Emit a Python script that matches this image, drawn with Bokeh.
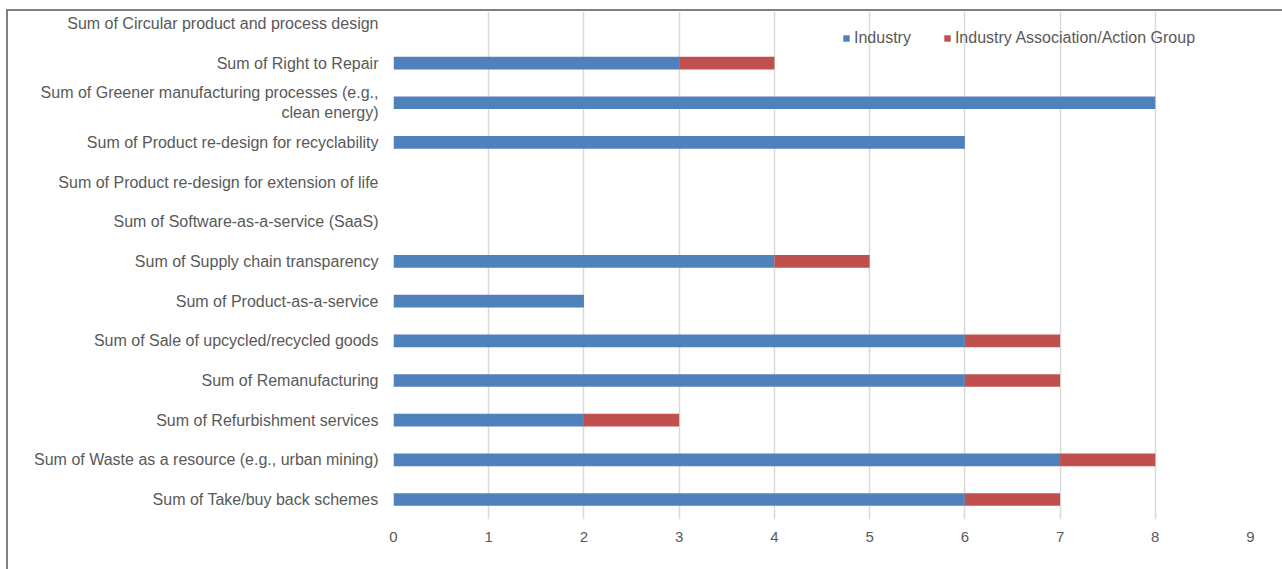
from bokeh.plotting import figure
from bokeh.models import ColumnDataSource, FixedTicker, InlineStyleSheet
from bokeh.embed import file_html
from bokeh.resources import INLINE

categories = [
    "Sum of Take/buy back schemes",
    "Sum of Waste as a resource (e.g., urban mining)",
    "Sum of Refurbishment services",
    "Sum of Remanufacturing",
    "Sum of Sale of upcycled/recycled goods",
    "Sum of Product-as-a-service",
    "Sum of Supply chain transparency",
    "Sum of Software-as-a-service (SaaS)",
    "Sum of Product re-design for extension of life",
    "Sum of Product re-design for recyclability",
    "Sum of Greener manufacturing processes (e.g.,\nclean energy)",
    "Sum of Right to Repair",
    "Sum of Circular product and process design",
]
industry = [6, 7, 2, 6, 6, 2, 4, 0, 0, 6, 8, 3, 0]
association = [1, 1, 1, 1, 1, 0, 1, 0, 0, 0, 0, 1, 0]
series_names = ["Industry", "Industry Association/Action Group"]
colors = ["#4F81BD", "#C0504D"]
x_ticks = list(range(0, 10))

ypos = list(range(len(categories)))
source = ColumnDataSource(dict(y=ypos, ind=industry, assoc=association))

W, H = 1282, 569
FONT = "Liberation Sans"
TXT = "#595959"

css = InlineStyleSheet(css="""
:host::after {
  content: '';
  position: absolute;
  left: 6px;
  top: 9px;
  width: 1276px;
  height: 560px;
  box-sizing: border-box;
  border-left: 2px solid #808080;
  border-top: 2px solid #808080;
  pointer-events: none;
  z-index: 10;
}
""")

p = figure(width=W, height=H, output_backend="svg", toolbar_location=None,
           x_range=(0, 9), y_range=(-0.504, 12.30),
           min_border_left=393, min_border_right=32, min_border_top=11, min_border_bottom=50)
p.stylesheets = [css]
p.outline_line_color = None
p.background_fill_color = "white"
p.border_fill_color = "white"

p.hbar_stack(["ind", "assoc"], y="y", height=0.32, color=colors, source=source,
             legend_label=series_names, line_color=None)

p.xgrid.ticker = FixedTicker(ticks=x_ticks)
p.xgrid.grid_line_color = "#D9D9D9"
p.xgrid.grid_line_width = 1.5
p.ygrid.grid_line_color = None

p.xaxis.ticker = FixedTicker(ticks=x_ticks)
p.xaxis.axis_line_color = None
p.xaxis.major_tick_line_color = None
p.xaxis.minor_tick_line_color = None
p.xaxis.major_label_standoff = 6
p.xaxis.major_label_text_font = FONT
p.xaxis.major_label_text_font_size = "15px"
p.xaxis.major_label_text_color = TXT

p.yaxis.ticker = FixedTicker(ticks=ypos)
p.yaxis.major_label_overrides = {i: c for i, c in zip(ypos, categories)}
p.yaxis.axis_line_color = None
p.yaxis.major_tick_line_color = None
p.yaxis.minor_tick_line_color = None
p.yaxis.major_label_standoff = 9
p.yaxis.major_label_text_font = FONT
p.yaxis.major_label_text_font_size = "16px"
p.yaxis.major_label_text_color = TXT
p.yaxis.major_label_text_align = "right"

leg = p.legend[0]
leg.orientation = "horizontal"
leg.location = (449, 472)
leg.border_line_color = None
leg.background_fill_alpha = 0
leg.padding = 0
leg.margin = 0
leg.spacing = 32
leg.glyph_width = 8
leg.glyph_height = 8
leg.label_standoff = 4
leg.label_text_font = FONT
leg.label_text_font_size = "16px"
leg.label_text_color = TXT

open("out.html", "w").write(file_html(p, INLINE))
